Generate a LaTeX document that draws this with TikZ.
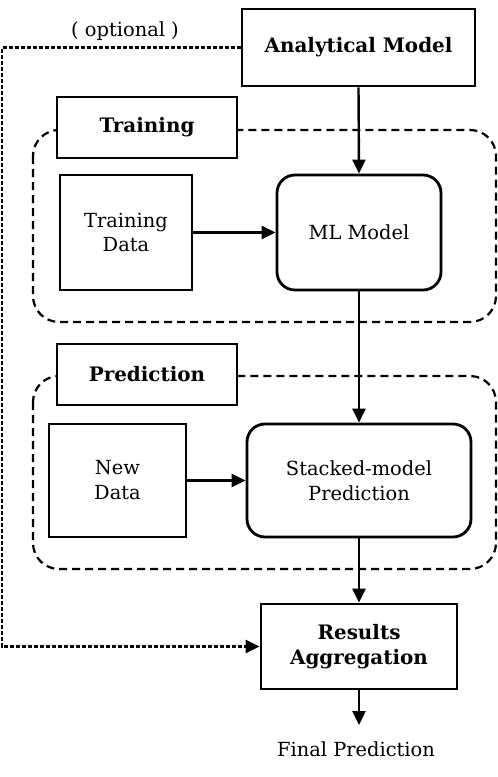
\documentclass[tikz,border=0pt]{standalone}
\usepackage{fontspec}
\setmainfont{DejaVu Serif}
\usetikzlibrary{arrows.meta,calc}
\tikzset{
  txt/.style={font=\fontsize{19.5}{25}\selectfont},
  btxt/.style={font=\bfseries\fontsize{20}{25}\selectfont},
}
\begin{document}
\begin{tikzpicture}[x=1bp,y=-1bp,
  box/.style={draw,line width=2.8bp,minimum width=#1,inner sep=0pt,align=center,txt},
  rbox/.style={box=#1,rounded corners=18bp},
  lbl/.style={draw,fill=white,line width=2.8bp,inner sep=0pt,btxt},
  region/.style={draw,dash pattern=on 8bp off 5bp,line width=2.2bp,rounded corners=26bp},
  arr/.style={line width=2.4bp,-{Triangle[length=14bp,width=13bp]}},
  optline/.style={line width=2.6bp,dash pattern=on 4bp off 2bp,-{Triangle[length=14bp,width=13bp]}}
]
\useasboundingbox (0,0) rectangle (498,777);
% regions
\draw[region] (33,130) rectangle (496,322);
\draw[region] (33,376) rectangle (496,569);
% nodes
\node[box=233bp,minimum height=77bp,btxt] (ana) at (358.5,47.5) {Analytical Model};
\node[lbl,minimum width=180bp,minimum height=61bp] (trl) at (147,127.5) {Training};
\node[box=132bp,minimum height=115bp] (td) at (126,232.5) {Training\\Data};
\node[rbox=164bp,minimum height=115bp] (ml) at (359,232.5) {ML Model};
\node[lbl,minimum width=180bp,minimum height=61bp] (prl) at (147,374.5) {Prediction};
\node[box=137bp,minimum height=113bp] (nd) at (117.5,480.5) {New\\Data};
\node[rbox=224bp,minimum height=113bp] (sp) at (359,480.5) {Stacked-model\\Prediction};
\node[box=196bp,minimum height=85bp,btxt] (res) at (359,646.5) {Results\\Aggregation};
\node[txt] (fin) at (356,749) {Final Prediction};
\node[txt] (opt) at (125,31) {( optional )};
\coordinate (finarrow) at (359,725);
% connectors
\draw[arr] (ana.south) -- (ml.north);
\draw[arr] (td.east) -- (ml.west);
\draw[arr] (ml.south) -- (sp.north);
\draw[arr] (nd.east) -- (sp.west);
\draw[arr] (sp.south) -- (res.north);
\draw[arr] (res.south) -- (finarrow);
\draw[optline] (ana.west) -- (ana.west -| 2,0) |- (res.west);
\end{tikzpicture}
\end{document}
